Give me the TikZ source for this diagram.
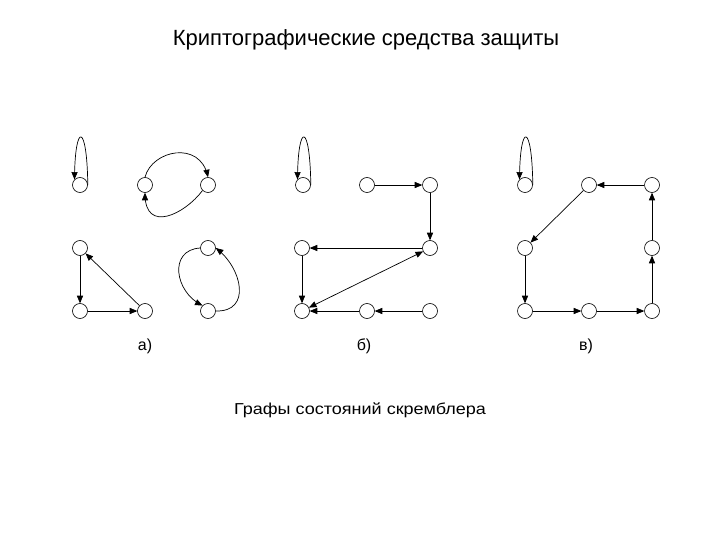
\documentclass[tikz,border=0pt]{standalone}
\usepackage{fontspec}
\setmainfont{Liberation Sans}
\usepackage{tikz}
\usetikzlibrary{arrows}

\begin{document}
\begin{tikzpicture}[x=1pt, y=-1pt, >=triangle 45, line width=0.7pt,
                        st/.style={circle, draw, line width=0.6pt, minimum size=15pt, inner sep=0pt},
                        lbl/.style={font=\fontsize{16}{18}\selectfont}]
        \useasboundingbox (0,0) rectangle (720,540);

        \node[font=\fontsize{22}{24}\selectfont] (title) at (366,40) {Криптографические средства защиты};
        \node[font=\fontsize{18}{20}\selectfont, yscale=0.88] (caption) at (360,410) {Графы состояний скремблера};
        \node[lbl] (la) at (145,346) {а)};
        \node[lbl] (lb) at (364,346) {б)};
        \node[lbl] (lc) at (586,346) {в)};

        \node[st] (aL) at (80,185) {};
        \node[st] (aP) at (145,185) {};
        \node[st] (aQ) at (208,185) {};
        \node[st] (aA) at (80,248) {};
        \node[st] (aB) at (80,311) {};
        \node[st] (aC) at (145,311) {};
        \node[st] (aT) at (208,248) {};
        \node[st] (aU) at (208,311) {};

        \draw[->] (aL.east) .. controls (87,122) and (75,122) .. (aL.north west);
        \draw[->] (aP.north) .. controls (152,150) and (200,140) .. (aQ.north);
        \draw[->] (aQ.south west) .. controls (185,214) and (145,234) .. (aP.south);
        \draw[->] (aA) -- (aB);
        \draw[->] (aB) -- (aC);
        \draw[->] (aC) -- (aA);
        \draw[->] (aT.west) .. controls (168,250) and (175,292) .. (aU.north west);
        \draw[->] (aU.east) .. controls (252,312) and (242,268) .. (aT.east);

        \node[st] (b1) at (303,185) {};
        \node[st] (b2) at (367,185) {};
        \node[st] (b3) at (430,185) {};
        \node[st] (b4) at (302,248) {};
        \node[st] (b5) at (430,248) {};
        \node[st] (b6) at (302,311) {};
        \node[st] (b7) at (367,311) {};
        \node[st] (b8) at (430,311) {};

        \draw[->] (b1.east) .. controls (310,122) and (298,122) .. (b1.north west);
        \draw[->] (b2) -- (b3);
        \draw[->] (b3) -- (b5);
        \draw[->] (b5) -- (b4);
        \draw[->] (b4) -- (b6);
        \draw[<->] (b5) -- (b6);
        \draw[->] (b8) -- (b7);
        \draw[->] (b7) -- (b6);

        \node[st] (v1) at (525,185) {};
        \node[st] (v2) at (589,185) {};
        \node[st] (v3) at (652,185) {};
        \node[st] (v4) at (525,248) {};
        \node[st] (v5) at (652,248) {};
        \node[st] (v6) at (525,311) {};
        \node[st] (v7) at (589,311) {};
        \node[st] (v8) at (652,311) {};

        \draw[->] (v1.east) .. controls (532,122) and (520,122) .. (v1.north west);
        \draw[->] (v3) -- (v2);
        \draw[->] (v2) -- (v4);
        \draw[->] (v4) -- (v6);
        \draw[->] (v6) -- (v7);
        \draw[->] (v7) -- (v8);
        \draw[->] (v8) -- (v5);
        \draw[->] (v5) -- (v3);
    \end{tikzpicture}
\end{document}
